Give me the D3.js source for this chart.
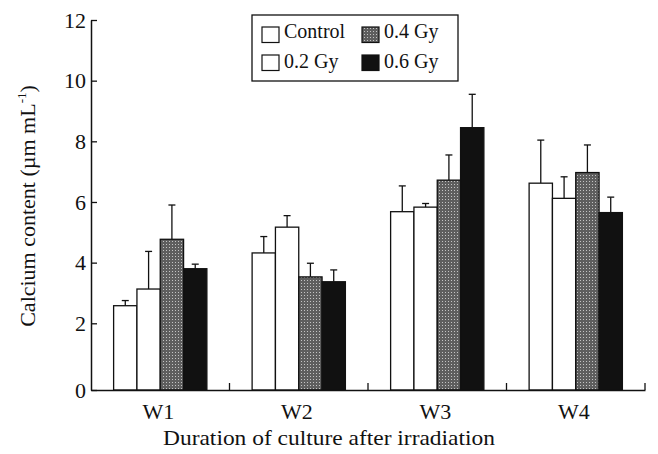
<!DOCTYPE html>
<html><head><meta charset="utf-8">
<script src="https://cdn.jsdelivr.net/npm/d3@7"></script>
<style>body{margin:0;background:#fff}svg{display:block}text{font-family:"Liberation Serif","DejaVu Serif",serif;fill:#111}</style>
</head><body>
<svg id="c" width="658" height="454"></svg>
<script>
const categories = ["W1","W2","W3","W4"];
const seriesNames = ["Control","0.2 Gy","0.4 Gy","0.6 Gy"];
const controlVals = [2.58, 4.32, 5.68, 6.62];
const gy02Vals   = [3.13, 5.17, 5.83, 6.12];
const gy04Vals   = [4.77, 3.53, 6.72, 6.97];
const gy06Vals   = [3.80, 3.37, 8.45, 5.65];
const controlErr = [0.17, 0.54, 0.85, 1.42];
const gy02Err    = [1.24, 0.38, 0.12, 0.71];
const gy04Err    = [1.13, 0.45, 0.83, 0.91];
const gy06Err    = [0.15, 0.39, 1.10, 0.51];
const yTicks = [0,2,4,6,8,10,12];

const values = [controlVals, gy02Vals, gy04Vals, gy06Vals];
const errs = [controlErr, gy02Err, gy04Err, gy06Err];
const fills = ["#fff","#fff","url(#stip)","#111"];

const svg = d3.select("#c");
const defs = svg.append("defs");
const pat = defs.append("pattern").attr("id","stip").attr("patternUnits","userSpaceOnUse").attr("width",3).attr("height",3);
pat.append("rect").attr("width",3).attr("height",3).attr("fill","#5e5e5e");
pat.append("rect").attr("x",1).attr("y",1).attr("width",1).attr("height",1).attr("fill","#c4c4c4");

const x0 = d3.scaleBand().domain(categories).range([91,645]).padding(0);
const x1 = d3.scaleBand().domain(seriesNames).range([0,x0.bandwidth()]).paddingInner(0).paddingOuter(0.97);
const y = d3.scaleLinear().domain([0,2,12]).range([390,323.3,20]);

// bars
const g = svg.append("g");
categories.forEach((c,ci)=>{
  seriesNames.forEach((s,si)=>{
    const v = values[si][ci], e = errs[si][ci];
    const bx = x0(c)+x1(s), bw = x1.bandwidth();
    const cx = bx+bw/2;
    g.append("line").attr("x1",cx).attr("x2",cx).attr("y1",y(v)).attr("y2",y(v+e)).attr("stroke","#111").attr("stroke-width",1.3);
    g.append("line").attr("x1",cx-3.5).attr("x2",cx+3.5).attr("y1",y(v+e)).attr("y2",y(v+e)).attr("stroke","#111").attr("stroke-width",1.3);
    g.append("rect").attr("x",bx).attr("y",y(v)).attr("width",bw).attr("height",y(0)-y(v))
      .attr("fill",fills[si]).attr("stroke","#111").attr("stroke-width",1.3);
  });
});

// y axis
const ya = svg.append("g").attr("transform","translate(91,0)")
  .call(d3.axisLeft(y).tickValues(yTicks).tickSizeInner(-6).tickSizeOuter(0).tickPadding(5).tickFormat(d3.format("d")));
ya.select(".domain").attr("stroke","#111").attr("stroke-width",1.5);
ya.selectAll(".tick line").attr("stroke","#111").attr("stroke-width",1.3);
ya.selectAll(".tick text").attr("font-size",22).attr("font-family","Liberation Serif").attr("fill","#111");

// x axis
const xa = svg.append("g").attr("transform","translate(0,390)")
  .call(d3.axisBottom(x0).tickSize(0).tickPadding(13));
xa.select(".domain").attr("stroke","#111").attr("stroke-width",1.5);
xa.selectAll(".tick text").attr("font-size",22).attr("font-family","Liberation Serif").attr("fill","#111")
  .attr("transform","translate(-2,0)");
// separator ticks
const seps = categories.slice(1).map(c=>x0(c)).concat([x0.range()[1]]);
svg.append("g").selectAll("line").data(seps).join("line")
  .attr("x1",d=>d).attr("x2",d=>d).attr("y1",390).attr("y2",383).attr("stroke","#111").attr("stroke-width",1.3);

// axis titles
svg.append("text").attr("x",329).attr("y",445).attr("text-anchor","middle").attr("font-size",22)
  .attr("textLength",332).attr("lengthAdjust","spacingAndGlyphs")
  .text("Duration of culture after irradiation");
const yt = svg.append("text").attr("transform","translate(35,206) rotate(-90)").attr("text-anchor","middle").attr("font-size",22);
yt.append("tspan").text("Calcium content (µm mL");
yt.append("tspan").attr("dy",-9).attr("font-size",13).text("-1");
yt.append("tspan").attr("dy",9).text(")");

// legend
const lg = svg.append("g");
lg.append("rect").attr("x",252).attr("y",15).attr("width",206).attr("height",66).attr("fill","#fff").attr("stroke","#111").attr("stroke-width",1.3);
const lpos = [[262,27,38],[262,55,68],[362,27,38],[362,55,68]];
seriesNames.forEach((s,i)=>{
  const [lx,ly,tb] = lpos[i];
  lg.append("rect").attr("x",lx).attr("y",ly).attr("width",17).attr("height",15.5).attr("fill",fills[i]).attr("stroke","#111").attr("stroke-width",1.2);
  lg.append("text").attr("x",lx+22).attr("y",tb).attr("font-size",20).text(s);
});
</script>
</body></html>
